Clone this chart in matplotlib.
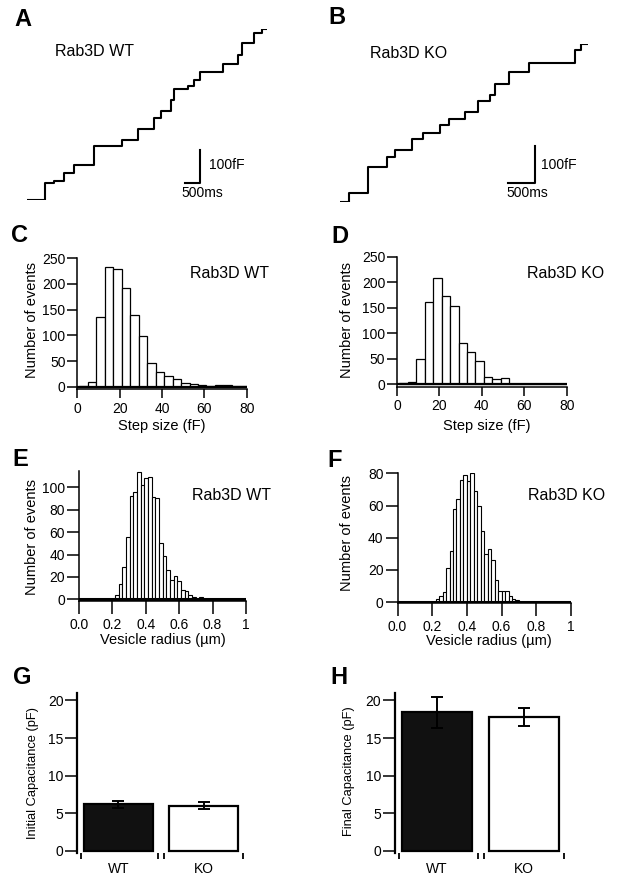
import matplotlib
matplotlib.use("Agg")
import matplotlib.pyplot as plt
import numpy as np

plt.rcParams['font.family'] = ['Liberation Sans', 'DejaVu Sans']

# ---------------- data ----------------
# Panel A: capacitance trace, Rab3D WT (step times in ms, level in fF)
wt_trace_t_ms = [0, 611, 889, 1222, 1556, 2222, 3167, 3689, 4222, 4467, 4800, 4889,
                 5356, 5556, 5778, 6533, 7022, 7167, 7578, 7833, 8000]
wt_trace_c_fF = [0, 50, 57, 80, 105, 162, 180, 212, 245, 267, 300, 332,
                 342, 360, 385, 407, 435, 472, 500, 513, 513]
# Panel B: capacitance trace, Rab3D KO
ko_trace_t_ms = [0, 175, 531, 888, 1031, 1344, 1550, 1875, 2050, 2344, 2594, 2813,
                 2906, 3175, 3550, 4406, 4531, 4656]
ko_trace_c_fF = [0, 24, 95, 122, 141, 171, 186, 207, 225, 243, 273, 288,
                 320, 351, 375, 410, 426, 426]
scale_time_ms = 500
scale_cap_fF = 100

# Panels C, D: step size histograms (bin centres in fF, width 4 fF)
step_bin_centers = [3, 7, 11, 15, 19, 23, 27, 31, 35, 39, 43, 47, 51, 55, 59, 63, 67, 71, 75, 79]
step_bin_width = 4
wt_step_counts = [2, 10, 136, 234, 229, 193, 140, 99, 47, 29, 21, 15, 8, 6, 4, 2, 4, 4, 1, 1]
ko_step_counts = [2, 4, 49, 162, 209, 174, 153, 82, 63, 46, 15, 10, 12, 1, 1, 0, 1, 1, 1, 1]

# Panels E, F: vesicle radius histograms (µm)
wt_radius_bin_start = 0.215
wt_radius_bin_width = 0.022
wt_radius_counts = [4, 14, 29, 56, 92, 96, 114, 102, 108, 109, 91, 90, 50, 39, 26, 17,
                    21, 16, 8, 7, 4, 2, 0, 2, 0]
ko_radius_bin_start = 0.22
ko_radius_bin_width = 0.02
ko_radius_counts = [2, 4, 6, 21, 32, 58, 64, 76, 79, 75, 80, 69, 60, 44, 30, 33, 26, 14,
                    7, 7, 7, 4, 2, 1]

# Panels G, H: capacitance bar charts (pF)
groups = ['WT', 'KO']
initial_cap_mean = [6.2, 6.0]
initial_cap_sem = [0.5, 0.45]
final_cap_mean = [18.4, 17.8]
final_cap_sem = [2.1, 1.15]

# ---------------- figure ----------------
W, H = 617, 875
fig = plt.figure(figsize=(W / 100, H / 100), dpi=100)

TICK_FS = 10
LABEL_FS = 10.5
LETTER_FS = 17


def add_ax(l, t, r, b):
    return fig.add_axes([l / W, 1 - b / H, (r - l) / W, (b - t) / H])


def ftext(x, y, s, **kw):
    kw.setdefault('ha', 'center')
    kw.setdefault('va', 'center')
    fig.text(x / W, 1 - y / H, s, **kw)


def trace_panel(box, t, c, xlim, ylim, corner):
    ax = add_ax(*box)
    ax.step(t, c, where='post', color='black', lw=1.5)
    cx, cy = corner
    ax.plot([cx - scale_time_ms, cx, cx], [cy, cy, cy + scale_cap_fF],
            color='black', lw=1.5, clip_on=False)
    ax.set_xlim(*xlim)
    ax.set_ylim(*ylim)
    ax.axis('off')
    return ax


trace_panel((27, 29, 267, 200), wt_trace_t_ms, wt_trace_c_fF, (0, 8000), (0, 513), (5767, 50))
trace_panel((340, 44.4, 588, 201.7), ko_trace_t_ms, ko_trace_c_fF, (0, 4656), (0, 426), (3656, 51))

ftext(22.5, 19.5, 'A', fontsize=LETTER_FS, fontweight='bold')
ftext(336.5, 17, 'B', fontsize=LETTER_FS, fontweight='bold')
ftext(55, 52, 'Rab3D WT', fontsize=11.5, ha='left')
ftext(370, 53, 'Rab3D KO', fontsize=11.5, ha='left')
ftext(209, 165, '100fF', fontsize=10, ha='left')
ftext(202, 193, '500ms', fontsize=10)
ftext(541, 165, '100fF', fontsize=10, ha='left')
ftext(527.5, 193, '500ms', fontsize=10)


def style_axes(ax, xlen, ylen, lw=1.1, labelsize=TICK_FS):
    ax.spines['top'].set_visible(False)
    ax.spines['right'].set_visible(False)
    ax.spines['left'].set_linewidth(lw)
    ax.spines['bottom'].set_linewidth(lw)
    ax.tick_params(axis='y', direction='out', length=ylen, width=lw, labelsize=labelsize, pad=1.5)
    ax.tick_params(axis='x', direction='out', length=xlen, width=lw, labelsize=labelsize, pad=2.5)


def step_hist(box, counts, ylim):
    ax = add_ax(*box)
    ax.bar(step_bin_centers, counts, width=step_bin_width, color='white',
           edgecolor='black', linewidth=0.9)
    ax.axhline(0, color='black', lw=1.6)
    ax.set_xlim(0, 80)
    ax.set_ylim(*ylim)
    ax.set_xticks([0, 20, 40, 60, 80])
    ax.set_yticks([0, 50, 100, 150, 200, 250])
    style_axes(ax, 6.5, 7)
    return ax


step_hist((77.3, 258.3, 246.7, 389), wt_step_counts, (-4.5, 250))
step_hist((397, 256.7, 566.7, 386.7), ko_step_counts, (-4.5, 250))
ftext(19.5, 235, 'C', fontsize=LETTER_FS, fontweight='bold')
ftext(340, 236, 'D', fontsize=LETTER_FS, fontweight='bold')
ftext(230, 273, 'Rab3D WT', fontsize=11.5)
ftext(566, 274, 'Rab3D KO', fontsize=11.5)
ftext(32, 320, 'Number of events', fontsize=LABEL_FS, rotation=90)
ftext(347, 320, 'Number of events', fontsize=LABEL_FS, rotation=90)
ftext(162, 426, 'Step size (fF)', fontsize=LABEL_FS)
ftext(487, 426, 'Step size (fF)', fontsize=LABEL_FS)


def radius_hist(box, start, width, counts, ylim, yticks):
    ax = add_ax(*box)
    centers = start + width * (np.arange(len(counts)) + 0.5)
    ax.bar(centers, counts, width=width, color='white', edgecolor='black', linewidth=0.8)
    ax.axhline(0, color='black', lw=2.2)
    ax.set_xlim(0, 1)
    ax.set_ylim(*ylim)
    ax.set_xticks([0, 0.2, 0.4, 0.6, 0.8, 1.0])
    ax.set_xticklabels(['0.0', '0.2', '0.4', '0.6', '0.8', '1'])
    ax.set_yticks(yticks)
    style_axes(ax, 9.5, 8.5)
    return ax


radius_hist((79, 470.7, 246, 601), wt_radius_bin_start, wt_radius_bin_width,
            wt_radius_counts, (-1.5, 114.8), [0, 20, 40, 60, 80, 100])
radius_hist((397.5, 472.7, 571, 603), ko_radius_bin_start, ko_radius_bin_width,
            ko_radius_counts, (-0.6, 80.4), [0, 20, 40, 60, 80])
ftext(20.5, 460, 'E', fontsize=LETTER_FS, fontweight='bold')
ftext(335, 461, 'F', fontsize=LETTER_FS, fontweight='bold')
ftext(232, 495, 'Rab3D WT', fontsize=11.5)
ftext(567, 496, 'Rab3D KO', fontsize=11.5)
ftext(32, 537, 'Number of events', fontsize=LABEL_FS, rotation=90)
ftext(347, 533, 'Number of events', fontsize=LABEL_FS, rotation=90)
ftext(162.5, 640, 'Vesicle radius (µm)', fontsize=LABEL_FS)
ftext(489, 641, 'Vesicle radius (µm)', fontsize=LABEL_FS)


def cap_bars(box, means, sems, xlim):
    ax = add_ax(*box)
    x = np.arange(len(groups))
    ax.bar(x, means, width=0.81, color=['#111111', 'white'], edgecolor='black', linewidth=1.6)
    ax.errorbar(x, means, yerr=sems, fmt='none', ecolor='black', elinewidth=1.4,
                capsize=4, capthick=1.4)
    ax.set_xlim(*xlim)
    ax.set_ylim(-0.27, 20.95)
    ax.set_yticks([0, 5, 10, 15, 20])
    ax.set_xticks(x)
    ax.set_xticklabels(groups)
    ax.set_xticks([-0.44, 0.465, 0.535, 1.455], minor=True)
    ax.spines['top'].set_visible(False)
    ax.spines['right'].set_visible(False)
    ax.spines['bottom'].set_visible(False)
    ax.spines['left'].set_linewidth(1.6)
    ax.tick_params(axis='y', direction='out', length=8.5, width=1.1, labelsize=TICK_FS, pad=1.5)
    ax.tick_params(axis='x', which='major', length=0, labelsize=TICK_FS, pad=6.5)
    ax.tick_params(axis='x', which='minor', direction='out', length=4.5, width=1.3)
    return ax


cap_bars((77.3, 693.3, 243, 853), initial_cap_mean, initial_cap_sem, (-0.48, 1.46))
cap_bars((395, 693.3, 564, 853), final_cap_mean, final_cap_sem, (-0.484, 1.46))
ftext(22, 677, 'G', fontsize=LETTER_FS, fontweight='bold')
ftext(338.5, 678, 'H', fontsize=LETTER_FS, fontweight='bold')
ftext(33, 773, 'Initial Capacitance (pF)', fontsize=9.3, rotation=90)
ftext(349, 771, 'Final Capacitance (pF)', fontsize=9.3, rotation=90)

fig.savefig('out.png', dpi=100)
